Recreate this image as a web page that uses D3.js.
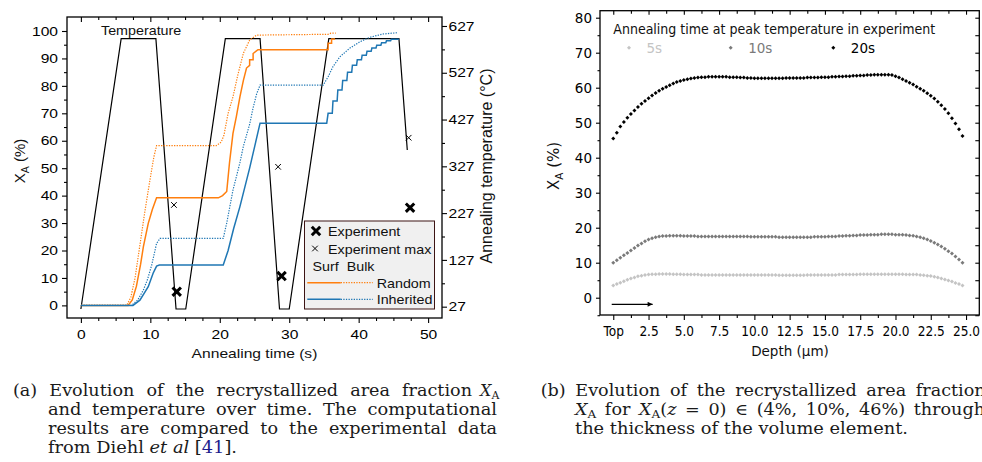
<!DOCTYPE html>
<html>
<head>
<meta charset="utf-8">
<script src="https://cdn.jsdelivr.net/npm/d3@7"></script>
<style>
  html, body { margin: 0; padding: 0; background: #fff; }
  svg { display: block; }
</style>
</head>
<body>
<svg width="982" height="462"></svg>
<script>
// ---- (a) data: annealing time (s) vs X_A (%) and temperature (°C)
const tempTime  = [0, 5.8, 10.8, 13.7, 15.1, 20.8, 25.8, 28.6, 30.0, 35.7, 45.8, 47.0];
const tempValue = [22, 600, 600, 22, 22, 600, 600, 22, 22, 600, 600, 362];

const randomSurfTime  = [0, 6.8, 7.4, 8.0, 8.6, 9.0, 9.7, 10.3, 10.9, 19.8, 20.4, 21.0, 21.4, 21.9, 22.4, 22.9, 23.4, 23.85, 24.3, 24.3, 24.8, 24.8, 25.5, 35.6, 35.6, 36.1, 36.1, 36.6];
const randomSurfValue = [0, 0, 2, 7, 15, 21.4, 29.9, 35, 39.2, 39.2, 40.0, 41.5, 52, 62.7, 69, 76, 82, 86.5, 87.5, 89.5, 89.5, 91.8, 93.2, 93.2, 95.5, 95.5, 97.1, 97.1];

const randomBulkTime  = [0, 6.6, 7.2, 7.8, 8.5, 9.2, 9.9, 10.5, 10.9, 19.5, 20.2, 20.6, 21.2, 21.9, 22.6, 23.4, 24.3, 25.3, 35.6, 36.0, 36.7];
const randomBulkValue = [0, 0, 3, 10, 22, 34, 45, 54, 58.2, 58.2, 59.5, 62, 70, 76, 84, 91.9, 96.7, 98.5, 98.8, 99.2, 99.2];

// third anneal of the inherited surface curve is a staircase (vertical jumps)
const inheritedSurfTime  = [0, 7.5, 8.5, 9.7, 10.4, 10.9, 11.3, 20.5, 21.2, 22.0, 22.9, 24.3, 25.8,
  35.4, 35.6, 36.2, 36.3, 36.9, 37.0, 37.6, 37.7, 38.3, 38.4, 39.0, 39.1, 39.7, 39.8, 40.4, 40.5, 41.1, 41.2, 41.8, 41.9, 42.5, 42.6, 43.2, 43.3, 43.9, 44.0, 44.6, 44.7, 45.8];
const inheritedSurfValue = [0, 0, 1.9, 6.8, 11.7, 14.3, 14.7, 14.7, 20, 28, 36, 50, 66.4,
  66.4, 70, 70, 74.5, 74.5, 78.5, 78.5, 82, 82, 85, 85, 87.5, 87.5, 89.5, 89.5, 91.2, 91.2, 92.6, 92.6, 93.8, 93.8, 94.8, 94.8, 95.7, 95.7, 96.4, 96.4, 97, 97];

const inheritedBulkTime  = [0, 7.3, 8.2, 9.0, 9.6, 10.2, 10.9, 11.4, 20.5, 21.0, 21.9, 22.9, 23.4, 24.3, 24.8, 25.3, 25.8, 34.9, 35.6, 36.3, 37.3, 38.7, 40.2, 41.6, 43.5, 45.7];
const inheritedBulkValue = [0, 0, 2, 5.6, 9.5, 14.7, 22.6, 24.4, 24.4, 30, 42, 52, 58, 66, 72, 77, 80.3, 80.3, 83.3, 87, 90.6, 93.7, 96.1, 97.7, 98.9, 99.4];

const expTime     = [13.8, 28.9, 47.4];
const expValue    = [5.0, 10.7, 35.6];
const expMaxTime  = [13.4, 28.4, 47.2];
const expMaxValue = [36.6, 50.5, 61.1];

const timeTicks = [0, 10, 20, 30, 40, 50];
const xaTicksA  = [0, 10, 20, 30, 40, 50, 60, 70, 80, 90, 100];
const tempTicks = [27, 127, 227, 327, 427, 527, 627];

// ---- (b) data: X_A (%) through the depth, one value every 0.25 µm from the top
const depthStep = 0.25;
const xa5s = [3.5, 3.9, 4.3, 4.7, 5.1, 5.5, 5.8, 6.1, 6.3, 6.5, 6.6,
  6.7, 6.7, 6.8, 6.8, 6.8, 6.8, 6.7, 6.7, 6.7, 6.6, 6.6, 6.6, 6.6, 6.6, 6.5, 6.5, 6.5, 6.5, 6.5, 6.5, 6.5, 6.5, 6.5, 6.5, 6.5, 6.5,
  6.5, 6.5, 6.5, 6.5, 6.5, 6.5, 6.5, 6.5, 6.5, 6.5, 6.4, 6.4, 6.4, 6.4, 6.4, 6.4, 6.4, 6.4, 6.5, 6.5, 6.5, 6.5, 6.5, 6.5,
  6.5, 6.5, 6.5, 6.6, 6.6, 6.6, 6.6, 6.6, 6.6, 6.7, 6.7, 6.7, 6.7, 6.7, 6.7, 6.7, 6.7, 6.7, 6.7, 6.7, 6.7, 6.7, 6.6, 6.6,
  6.6, 6.6, 6.5, 6.4, 6.3, 6.2, 6.0, 5.8, 5.5, 5.2, 4.9, 4.6, 4.2, 3.9, 3.5];
const xa10s = [10.0, 10.7, 11.4, 12.1, 12.8, 13.5, 14.2, 14.9, 15.5, 16.1, 16.6, 17.0, 17.3,
  17.5, 17.6, 17.6, 17.7, 17.7, 17.7, 17.7, 17.6, 17.6, 17.6, 17.6, 17.5, 17.5, 17.5, 17.5, 17.5, 17.5, 17.5, 17.5, 17.5, 17.5, 17.5, 17.5, 17.5,
  17.5, 17.5, 17.4, 17.4, 17.4, 17.4, 17.4, 17.4, 17.4, 17.4, 17.3, 17.3, 17.3, 17.3, 17.3, 17.3, 17.3, 17.3, 17.3, 17.3, 17.4, 17.4, 17.4, 17.4,
  17.5, 17.5, 17.5, 17.6, 17.6, 17.7, 17.7, 17.8, 17.8, 17.9, 17.9, 17.9, 18.0, 18.0, 18.0, 18.1, 18.1, 18.1, 18.1, 18.0, 18.0, 18.0, 17.9, 17.8,
  17.7, 17.5, 17.3, 17.0, 16.6, 16.2, 15.7, 15.2, 14.6, 14.0, 13.3, 12.6, 11.8, 10.9, 10.0];
const xa20s = [45.5, 47.1, 48.9, 50.2, 51.4, 52.5, 53.5, 54.5, 55.4, 56.2, 57.0, 57.8, 58.5, 59.1, 59.7, 60.2, 60.7, 61.2, 61.6, 61.9, 62.2, 62.4, 62.6, 62.8, 62.9,
  63.0, 63.0, 63.1, 63.1, 63.1, 63.1, 63.1, 63.1, 63.0, 63.0, 63.0, 62.9, 62.9, 62.8,
  62.8, 62.7, 62.7, 62.7, 62.7, 62.7, 62.7, 62.7, 62.7, 62.7, 62.8, 62.8, 62.8, 62.8, 62.8, 62.8, 62.9, 62.9, 62.9, 62.9, 63.0, 63.0,
  63.0, 63.1, 63.1, 63.2, 63.2, 63.3, 63.3, 63.4, 63.4, 63.5, 63.5, 63.6, 63.6, 63.7, 63.7, 63.7, 63.7, 63.7,
  63.6, 63.3, 62.9, 62.4, 61.9, 61.4, 60.9, 60.3, 59.7, 59.1, 58.4, 57.7, 56.9, 56.0, 55.0, 53.9, 52.7, 51.3, 49.8, 48.1, 46.2];
const seriesNames = ["5s", "10s", "20s"];
const depthTicks = [0, 2.5, 5, 7.5, 10, 12.5, 15, 17.5, 20, 22.5, 25];
const depthTickLabels = ["Top", "2.5", "5.0", "7.5", "10.0", "12.5", "15.0", "17.5", "20.0", "22.5", "25.0"];
const xaTicksB = [0, 10, 20, 30, 40, 50, 60, 70, 80];

const orange = "#ff7f0e";
const blue = "#1f77b4";

const svg = d3.select("svg");

// draw an axis without its domain line
function drawAxis(g, axis, transform) {
    return g.append("g")
        .attr("transform", transform)
        .call(axis)
        .attr("font-size", null)
        .attr("font-family", null)
        .call(s => s.select(".domain").remove())
        .call(s => s.selectAll("line").attr("stroke-width", 1.1));
}
const noLabel = () => "";

// stretch/condense texts horizontally (the figure's fonts are not square)
function stretch(sel, k) {
    sel.each(function () {
        const w = this.getComputedTextLength();
        if (w > 0) d3.select(this).attr("textLength", w * k).attr("lengthAdjust", "spacingAndGlyphs");
    });
}

// ================= panel (a) =================
const gA = svg.append("g")
    .attr("font-family", "'Liberation Sans', Arial, sans-serif")
    .attr("font-size", 13)
    .attr("fill", "#111");

const xA = d3.scaleLinear().domain([-2, 52]).range([67, 442]);
const yA = d3.scaleLinear().domain([-4.6, 105.1]).range([318, 17]);
const yT = d3.scaleLinear().domain([2.8, 646.2]).range([318, 17]);

const minorTime = d3.range(0, 52, 2.5).filter(v => v % 10 !== 0);

const axA = [
    drawAxis(gA, d3.axisBottom(xA).tickValues(timeTicks).tickSize(5).tickPadding(7), "translate(0,318)"),
    drawAxis(gA, d3.axisLeft(yA).tickValues(xaTicksA).tickSize(5).tickPadding(4), "translate(67,0)"),
    drawAxis(gA, d3.axisRight(yT).tickValues(tempTicks).tickSize(5).tickPadding(1.5), "translate(442,0)")
];
drawAxis(gA, d3.axisBottom(xA).tickValues(minorTime).tickSize(3).tickFormat(noLabel), "translate(0,318)");
drawAxis(gA, d3.axisTop(xA).tickValues(timeTicks).tickSize(-5).tickFormat(noLabel), "translate(0,17)");
drawAxis(gA, d3.axisTop(xA).tickValues(minorTime).tickSize(-3).tickFormat(noLabel), "translate(0,17)");
drawAxis(gA, d3.axisLeft(yA).tickValues(xaTicksA.map(v => v + 5).slice(0, -1)).tickSize(3).tickFormat(noLabel), "translate(67,0)");
drawAxis(gA, d3.axisRight(yT).tickValues(tempTicks.slice(0, -1).map(v => v + 50)).tickSize(3).tickFormat(noLabel), "translate(442,0)");
axA.forEach(a => a.selectAll("text").call(stretch, 1.2));

gA.append("rect")
    .attr("x", 67).attr("y", 17)
    .attr("width", 375).attr("height", 301)
    .attr("fill", "none").attr("stroke", "#000").attr("stroke-width", 1.3);

// temperature profile
gA.append("path")
    .attr("d", d3.line().x((d, i) => xA(tempTime[i])).y((d, i) => yT(tempValue[i]))(tempTime))
    .attr("fill", "none").attr("stroke", "#000").attr("stroke-width", 1.2);

gA.append("text").attr("x", 101).attr("y", 35).text("Temperature").call(stretch, 1.1);

const curvesA = [
    { t: randomSurfTime, v: randomSurfValue, color: orange, dash: null },
    { t: randomBulkTime, v: randomBulkValue, color: orange, dash: "1.3,1.3" },
    { t: inheritedSurfTime, v: inheritedSurfValue, color: blue, dash: null },
    { t: inheritedBulkTime, v: inheritedBulkValue, color: blue, dash: "1.3,1.3" }
];

gA.append("g").selectAll("path")
    .data(curvesA)
    .join("path")
    .attr("d", c => d3.line().x((d, i) => xA(c.t[i])).y((d, i) => yA(c.v[i]))(c.t))
    .attr("fill", "none")
    .attr("stroke", c => c.color)
    .attr("stroke-width", c => c.dash ? 1.2 : 1.5)
    .attr("stroke-dasharray", c => c.dash);

const bigX = r => `M${-r},${-r}L${r},${r}M${-r},${r}L${r},${-r}`;

gA.append("g").selectAll("path")
    .data(expTime)
    .join("path")
    .attr("transform", (d, i) => `translate(${xA(d)},${yA(expValue[i])})`)
    .attr("d", bigX(4.2))
    .attr("stroke", "#000").attr("stroke-width", 3);

gA.append("g").selectAll("path")
    .data(expMaxTime)
    .join("path")
    .attr("transform", (d, i) => `translate(${xA(d)},${yA(expMaxValue[i])})`)
    .attr("d", bigX(2.8))
    .attr("stroke", "#000").attr("stroke-width", 1);

// legend (a)
const legA = gA.append("g");
legA.append("rect")
    .attr("x", 304.5).attr("y", 221)
    .attr("width", 130).attr("height", 88)
    .attr("fill", "#f0f0f0").attr("stroke", "#3c1414").attr("stroke-width", 1);
legA.append("path").attr("transform", "translate(316,231)").attr("d", bigX(4.2))
    .attr("stroke", "#000").attr("stroke-width", 3);
legA.append("text").attr("x", 328).attr("y", 236).text("Experiment");
legA.append("path").attr("transform", "translate(315,248.5)").attr("d", bigX(2.8))
    .attr("stroke", "#000").attr("stroke-width", 1);
legA.append("text").attr("x", 328).attr("y", 253.5).text("Experiment max");
legA.append("text").attr("x", 312.5).attr("y", 271).text("Surf  Bulk").style("white-space", "pre");
[["Random", orange, 282.7], ["Inherited", blue, 299.3]].forEach(([name, color, y]) => {
    legA.append("line").attr("x1", 307.3).attr("x2", 340.7).attr("y1", y).attr("y2", y)
        .attr("stroke", color).attr("stroke-width", 1.5);
    legA.append("line").attr("x1", 340.7).attr("x2", 372.7).attr("y1", y).attr("y2", y)
        .attr("stroke", color).attr("stroke-width", 1.2).attr("stroke-dasharray", "1.3,1.3");
    legA.append("text").attr("x", 376.7).attr("y", y + 5).text(name);
});
legA.selectAll("text").call(stretch, 1.1);

// axis titles (a)
gA.append("text").attr("x", 254.5).attr("y", 358).attr("text-anchor", "middle")
    .text("Annealing time (s)").call(stretch, 1.2);
const ylabA = gA.append("text").attr("transform", "translate(25,161) rotate(-90)")
    .attr("text-anchor", "middle").attr("font-size", 15);
ylabA.append("tspan").text("X");
ylabA.append("tspan").attr("font-size", 10.5).attr("dy", 4).text("A");
ylabA.append("tspan").attr("dy", -4).text(" (%)");
gA.append("text").attr("transform", "translate(492,166) rotate(-90)").attr("text-anchor", "middle")
    .attr("font-size", 16)
    .text("Annealing temperature (°C)");

// ================= panel (b) =================
const gB = svg.append("g")
    .attr("font-family", "'DejaVu Sans', Verdana, sans-serif")
    .attr("font-size", 13.5)
    .attr("fill", "#111");

const xB = d3.scaleLinear().domain([-0.94, 25.94]).range([600, 979.3]);
const yB = d3.scaleLinear().domain([-4.94, 82]).range([315, 10.7]);

const minorDepth = depthTicks.slice(0, -1).map(v => v + 1.25);
const minorXaB = [-5].concat(xaTicksB.map(v => v + 5).slice(0, -1));

drawAxis(gB, d3.axisBottom(xB).tickValues(depthTicks).tickSize(5).tickPadding(6)
    .tickFormat((d, i) => depthTickLabels[i]), "translate(0,315)")
    .selectAll("text").call(stretch, 0.9);
drawAxis(gB, d3.axisBottom(xB).tickValues(minorDepth).tickSize(3).tickFormat(noLabel), "translate(0,315)");
drawAxis(gB, d3.axisTop(xB).tickValues(depthTicks).tickSize(-4).tickFormat(noLabel), "translate(0,10.7)");
drawAxis(gB, d3.axisTop(xB).tickValues(minorDepth).tickSize(-3).tickFormat(noLabel), "translate(0,10.7)");
drawAxis(gB, d3.axisLeft(yB).tickValues(xaTicksB).tickSize(4).tickPadding(4), "translate(600,0)");
drawAxis(gB, d3.axisLeft(yB).tickValues(minorXaB).tickSize(2.5).tickFormat(noLabel), "translate(600,0)");
drawAxis(gB, d3.axisRight(yB).tickValues(xaTicksB.concat(minorXaB)).tickSize(-4).tickFormat(noLabel), "translate(979.3,0)");

gB.append("rect")
    .attr("x", 600).attr("y", 10.7)
    .attr("width", 379.3).attr("height", 304.3)
    .attr("fill", "none").attr("stroke", "#000").attr("stroke-width", 1.3);

const seriesB = [
    { name: seriesNames[0], values: xa5s, color: "#c4c4c4" },
    { name: seriesNames[1], values: xa10s, color: "#7a7a7a" },
    { name: seriesNames[2], values: xa20s, color: "#000" }
];
const marker = d3.symbol().type(d3.symbolSquare).size(8)();

gB.append("g").selectAll("g")
    .data(seriesB)
    .join("g")
    .attr("fill", s => s.color)
    .selectAll("path")
    .data(s => s.values)
    .join("path")
    .attr("transform", (d, i) => `translate(${xB(i * depthStep)},${yB(d)}) rotate(45)`)
    .attr("d", marker);

// legend (b)
gB.append("text").attr("x", 613.3).attr("y", 34.3)
    .attr("textLength", 322).attr("lengthAdjust", "spacingAndGlyphs")
    .text("Annealing time at peak temperature in experiment");
const legX = [629, 730.7, 833.3];
seriesB.forEach((s, i) => {
    gB.append("path").attr("transform", `translate(${legX[i]},47.7) rotate(45)`).attr("d", marker).attr("fill", s.color);
    gB.append("text").attr("x", legX[i] + 17.5).attr("y", 52.5).attr("fill", s.color).text(s.name);
});

// depth direction arrow
gB.append("defs").append("marker")
    .attr("id", "arrowhead")
    .attr("viewBox", "0 0 10 10").attr("refX", 10).attr("refY", 5)
    .attr("markerWidth", 8).attr("markerHeight", 5)
    .attr("markerUnits", "userSpaceOnUse")
    .attr("orient", "auto")
    .append("path").attr("d", "M0,0L10,5L0,10Z").attr("fill", "#000");
gB.append("line")
    .attr("x1", xB(-0.11)).attr("x2", xB(2.79))
    .attr("y1", yB(-1.89)).attr("y2", yB(-1.89))
    .attr("stroke", "#000").attr("stroke-width", 1.2)
    .attr("marker-end", "url(#arrowhead)");

gB.append("text").attr("x", 790).attr("y", 356).attr("text-anchor", "middle").text("Depth (μm)");
const ylabB = gB.append("text").attr("transform", "translate(559,166) rotate(-90)")
    .attr("text-anchor", "middle").attr("font-size", 15);
ylabB.append("tspan").text("X");
ylabB.append("tspan").attr("font-size", 10.5).attr("dy", 4).text("A");
ylabB.append("tspan").attr("dy", -4).text(" (%)");

// ================= captions =================
const cap = svg.append("g")
    .attr("font-family", "'DejaVu Serif', 'Liberation Serif', serif")
    .attr("font-size", 16)
    .attr("fill", "#1a1a1a");

// glyphs widened a little (the original face is wider), word gaps stretched for justified lines
const glyphWiden = 1.1;
function capLine(x, y) {
    return cap.append("text").attr("x", x).attr("y", y);
}
function fit(t, width, justify) {
    const node = t.node();
    const w = node.getComputedTextLength();
    const spaces = (node.textContent.match(/ /g) || []).length;
    if (justify && spaces > 0 && w * glyphWiden < width) {
        t.attr("word-spacing", (width / glyphWiden - w) / spaces);
    }
    t.attr("textLength", width).attr("lengthAdjust", "spacingAndGlyphs");
}
const a1 = capLine(13, 396).text("(a) Evolution of the recrystallized area fraction");
fit(a1, 459, true);
const xaA = capLine(480, 396);
xaA.append("tspan").attr("font-style", "italic").text("X");
xaA.append("tspan").attr("font-size", 11).attr("dy", 3).text("A");
fit(capLine(48, 415).text("and temperature over time.  The computational"), 449, true);
fit(capLine(48, 434).text("results are compared to the experimental data"), 449, true);
const l4 = capLine(48, 453);
l4.append("tspan").text("from Diehl ");
l4.append("tspan").attr("font-style", "italic").text("et al");
l4.append("tspan").text(" [");
l4.append("tspan").attr("fill", "#1c1c8c").text("41");
l4.append("tspan").text("].");
fit(l4, 189, false);

fit(capLine(540.7, 396).text("(b) Evolution of the recrystallized area fraction"), 445, true);
const r2 = capLine(575, 415);
r2.append("tspan").attr("font-style", "italic").text("X");
r2.append("tspan").attr("font-size", 11).attr("dy", 3).text("A");
r2.append("tspan").attr("dy", -3).text(" for ");
r2.append("tspan").attr("font-style", "italic").text("X");
r2.append("tspan").attr("font-size", 11).attr("dy", 3).text("A");
r2.append("tspan").attr("dy", -3).text("(");
r2.append("tspan").attr("font-style", "italic").text("z");
r2.append("tspan").text(" = 0) ∈ (4%, 10%, 46%) through");
fit(r2, 410, true);
fit(capLine(575, 434).text("the thickness of the volume element."), 333, false);
</script>
</body>
</html>
